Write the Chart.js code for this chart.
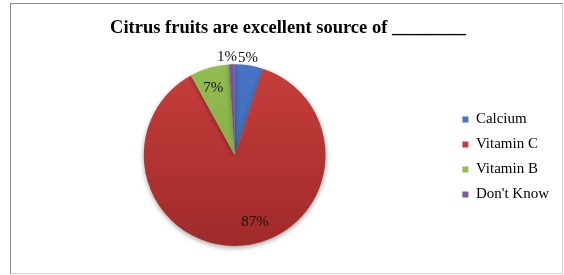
<!DOCTYPE html>
<html>
<head>
<meta charset="utf-8">
<script src="https://cdn.jsdelivr.net/npm/chart.js@4.4.1/dist/chart.umd.min.js"></script>
<style>
  body { margin: 0; background: #fff; }
  .box {
    position: absolute; left: 10px; top: 3px;
    width: 551px; height: 269px;
    border-left: 1px solid #8a8a8a; border-top: 1px solid #8a8a8a;
    border-right: 1px solid #d0d0d0; border-bottom: 1px solid #d0d0d0;
  }
</style>
</head>
<body>
<div class="box"><canvas id="myChart" width="551" height="269"></canvas></div>
<script>
  const categories = ['Calcium', 'Vitamin C', 'Vitamin B', "Don't Know"];
  const percents = [5, 87, 7, 1];
  const colors = ['#4675c6', '#c63e3b', '#92bd50', '#7d55a3'];
  const darkColors = ['#3a63ab', '#a02a2a', '#7ea53f', '#69448c'];

  const ctx = document.getElementById('myChart');

  // Excel-like percentage labels, small slices go outside
  const pctLabels = {
    id: 'pctLabels',
    afterDatasetsDraw(chart) {
      const c = chart.ctx;
      const meta = chart.getDatasetMeta(0);
      c.save();
      c.font = '15px "Liberation Serif", "Times New Roman", serif';
      c.fillStyle = '#111';
      c.textBaseline = 'middle';
      c.textAlign = 'center';
      meta.data.forEach((arc, i) => {
        const v = percents[i];
        let mid = (arc.startAngle + arc.endAngle) / 2;
        if (v > 50) mid -= 0.2;   // best-fit nudge for the big slice
        const r = v < 6 ? arc.outerRadius + 7 : arc.outerRadius * 0.77;
        let x = arc.x + Math.cos(mid) * r;
        const y = arc.y + Math.sin(mid) * r;
        if (v < 6) x += Math.cos(mid) > 0 ? -2 : -4.5;
        else if (v < 50) x -= 2;
        c.fillText(v + '%', x, y);
      });
      c.restore();
    }
  };

  const shadow = {
    id: 'shadow',
    beforeDatasetsDraw(chart) {
      const c = chart.ctx;
      c.save();
      c.shadowColor = 'rgba(0,0,0,0.35)';
      c.shadowBlur = 5;
      c.shadowOffsetY = 2;
    },
    afterDatasetsDraw(chart) {
      chart.ctx.restore();
    }
  };

  // push the legend column down so it sits level with the pie
  const legendShift = {
    id: 'legendShift',
    afterLayout(chart) {
      chart.legend.top += 32;
      chart.legend.bottom += 32;
      chart.legend.left -= 3;
      chart.legend.right -= 3;
    }
  };

  function grad(context) {
    const i = context.dataIndex;
    const chart = context.chart;
    const area = chart.chartArea;
    if (!area) return colors[i];
    const g = chart.ctx.createLinearGradient(0, area.top, 0, area.bottom);
    g.addColorStop(0, colors[i]);
    g.addColorStop(1, darkColors[i]);
    return g;
  }

  new Chart(ctx, {
    type: 'pie',
    data: {
      labels: categories,
      datasets: [{
        data: percents,
        backgroundColor: grad,
        borderWidth: 0,
        hoverOffset: 0
      }]
    },
    options: {
      responsive: false,
      animation: false,
      events: [],
      layout: {
        padding: { left: 3, right: 0, top: 0, bottom: 27 }
      },
      plugins: {
        title: {
          display: true,
          text: 'Citrus fruits are excellent source of ________',
          color: '#000',
          font: { family: '"Liberation Serif", "Times New Roman", serif', size: 18.5, weight: 'bold' },
          padding: { top: 13, bottom: 25 }
        },
        legend: {
          position: 'right',
          labels: {
            boxWidth: 6,
            boxHeight: 6,
            padding: 10,
            color: '#111',
            font: { family: '"Liberation Serif", "Times New Roman", serif', size: 15 },
            generateLabels(chart) {
              return categories.map((name, i) => ({
                text: name,
                fillStyle: colors[i],
                strokeStyle: colors[i],
                lineWidth: 0,
                index: i
              }));
            }
          }
        },
        tooltip: { enabled: false }
      }
    },
    plugins: [shadow, pctLabels, legendShift]
  });
</script>
</body>
</html>
